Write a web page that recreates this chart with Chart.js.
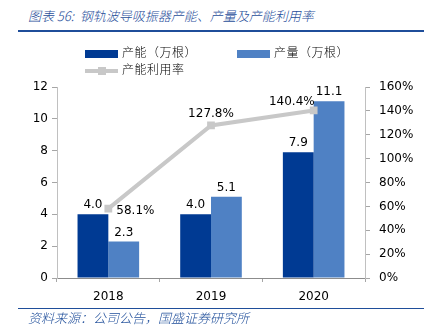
<!DOCTYPE html>
<html>
<head>
<meta charset="utf-8">
<script src="https://cdn.jsdelivr.net/npm/chart.js@4.4.1/dist/chart.umd.min.js"></script>
<style>
  body { margin: 0; background: #fff; }
  #wrap { position: relative; width: 424px; height: 335px; overflow: hidden; }
  #chart { position: absolute; left: 0; top: 0; }
  .title {
    position: absolute; left: 28px; top: 6px;
    font: italic 300 13px "Noto Sans CJK SC", sans-serif; color: #1F4E9A;
    white-space: nowrap;
  }
  .rule1 { position: absolute; left: 18px; right: 0; top: 30px; height: 2px; background: #1F4E9A; }
  .rule2 { position: absolute; left: 18px; right: 0; top: 308px; height: 1px; background: #1F4E9A; }
  .source {
    position: absolute; left: 28px; top: 308px;
    font: italic 300 13px "Noto Sans CJK SC", sans-serif; color: #1F4E9A;
    white-space: nowrap;
  }
  .legend { position: absolute; font: 300 12px "Noto Sans CJK SC", sans-serif; color: #000; white-space: nowrap; letter-spacing: 0.5px; }
  .legend span.box { display: inline-block; width: 33px; height: 8px; vertical-align: middle; margin-right: 4px; }
  .legend span.ln { display: inline-block; position: relative; width: 33px; height: 8px; vertical-align: middle; margin-right: 4px; }
  .legend span.ln::before { content: ""; position: absolute; left: 0; right: 0; top: 2px; height: 4px; background: #C8C8C8; }
  .legend span.ln::after { content: ""; position: absolute; left: 13px; top: 0; width: 8px; height: 8px; background: #C8C8C8; }
</style>
</head>
<body>
<div id="wrap">
  <div class="title">图表 56:&nbsp; 钢轨波导吸振器产能、产量及产能利用率</div>
  <div class="rule1"></div>
  <canvas id="chart" width="424" height="335"></canvas>
  <div id="leg0" class="legend" style="left:85px; top:43px;"></div>
  <div id="leg1" class="legend" style="left:237px; top:43px;"></div>
  <div id="leg2" class="legend" style="left:85px; top:60px;"></div>
  <div class="rule2"></div>
  <div class="source">资料来源：公司公告，国盛证券研究所</div>
</div>
<script>
const years = ['2018', '2019', '2020'];
const capacity = [4.0, 4.0, 7.9];       // 产能（万根）
const output = [2.3, 5.1, 11.1];        // 产量（万根）
const utilization = [58.1, 127.8, 140.4]; // 产能利用率 %
const leftTicks = [0, 2, 4, 6, 8, 10, 12];
const rightTicks = [0, 20, 40, 60, 80, 100, 120, 140, 160];

const DARK = '#003A93';
const LIGHT = '#4F81C4';
const GREY = '#C8C8C8';
const AXIS = '#A6A6A6';
const FONT = { family: 'DejaVu Sans', size: 12 };

// value labels above bars / around line points
const valueLabels = {
  id: 'valueLabels',
  afterDatasetsDraw(chart) {
    const ctx = chart.ctx;
    ctx.save();
    ctx.font = '12px "DejaVu Sans"';
    ctx.fillStyle = '#000';
    chart.data.datasets.forEach((ds, i) => {
      const meta = chart.getDatasetMeta(i);
      meta.data.forEach((el, j) => {
        const v = ds.data[j];
        if (ds.type === 'line') {
          const txt = v.toFixed(1) + '%';
          if (j === 0) {
            ctx.textAlign = 'left'; ctx.textBaseline = 'middle';
            ctx.fillText(txt, el.x + 8, el.y + 2);
          } else if (j === 1) {
            ctx.textAlign = 'center'; ctx.textBaseline = 'bottom';
            ctx.fillText(txt, el.x, el.y - 6);
          } else {
            ctx.textAlign = 'right'; ctx.textBaseline = 'bottom';
            ctx.fillText(txt, el.x + 1, el.y - 3);
          }
        } else {
          ctx.textAlign = 'center'; ctx.textBaseline = 'bottom';
          ctx.fillText(v.toFixed(1), el.x, el.y - 3);
        }
      });
    });
    ctx.restore();
  }
};

const chart = new Chart(document.getElementById('chart'), {
  type: 'bar',
  data: {
    labels: years,
    datasets: [
      {
        type: 'line',
        label: '产能利用率',
        data: utilization,
        yAxisID: 'y1',
        borderColor: GREY,
        backgroundColor: GREY,
        borderWidth: 4,
        pointStyle: 'rect',
        pointRadius: 5.5,
        pointBorderWidth: 0,
        pointBackgroundColor: GREY,
        order: 0
      },
      {
        label: '产能（万根）',
        data: capacity,
        yAxisID: 'y',
        backgroundColor: DARK,
        categoryPercentage: 0.6,
        barPercentage: 1.0,
        order: 1
      },
      {
        label: '产量（万根）',
        data: output,
        yAxisID: 'y',
        backgroundColor: LIGHT,
        categoryPercentage: 0.6,
        barPercentage: 1.0,
        order: 1
      }
    ]
  },
  options: {
    responsive: false,
    animation: false,
    layout: { padding: { top: 87, left: 0, right: 0, bottom: 0 } },
    plugins: {
      legend: { display: false },
      tooltip: { enabled: false }
    },
    scales: {
      x: {
        offset: true,
        grid: { offset: true, drawOnChartArea: false, color: AXIS, tickLength: 4 },
        border: { color: '#8C8C8C', width: 1 },
        ticks: { font: FONT, color: '#000', padding: 8 },
        afterFit(s) { s.height = 57; }
      },
      y: {
        position: 'left',
        min: 0, max: 12,
        afterBuildTicks(s) { s.ticks = leftTicks.map(v => ({ value: v })); },
        grid: { drawOnChartArea: false, color: AXIS, tickLength: 5 },
        border: { color: '#C0C0C0', width: 1 },
        ticks: { font: FONT, color: '#000', padding: 4 },
        afterFit(s) { s.width = 57; }
      },
      y1: {
        position: 'right',
        min: 0, max: 160,
        afterBuildTicks(s) { s.ticks = rightTicks.map(v => ({ value: v })); },
        grid: { drawOnChartArea: false, color: AXIS, tickLength: 5 },
        border: { color: '#C0C0C0', width: 1 },
        ticks: { font: FONT, color: '#000', padding: 9, callback: v => v + '%' },
        afterFit(s) { s.width = 59; }
      }
    }
  },
  plugins: [valueLabels]
});

// legend from the chart's own datasets
const ds = chart.data.datasets;
document.getElementById('leg0').innerHTML = '<span class="box" style="background:' + DARK + '"></span>' + ds[1].label;
document.getElementById('leg1').innerHTML = '<span class="box" style="background:' + LIGHT + '"></span>' + ds[2].label;
document.getElementById('leg2').innerHTML = '<span class="ln"></span>' + ds[0].label;
</script>
</body>
</html>
